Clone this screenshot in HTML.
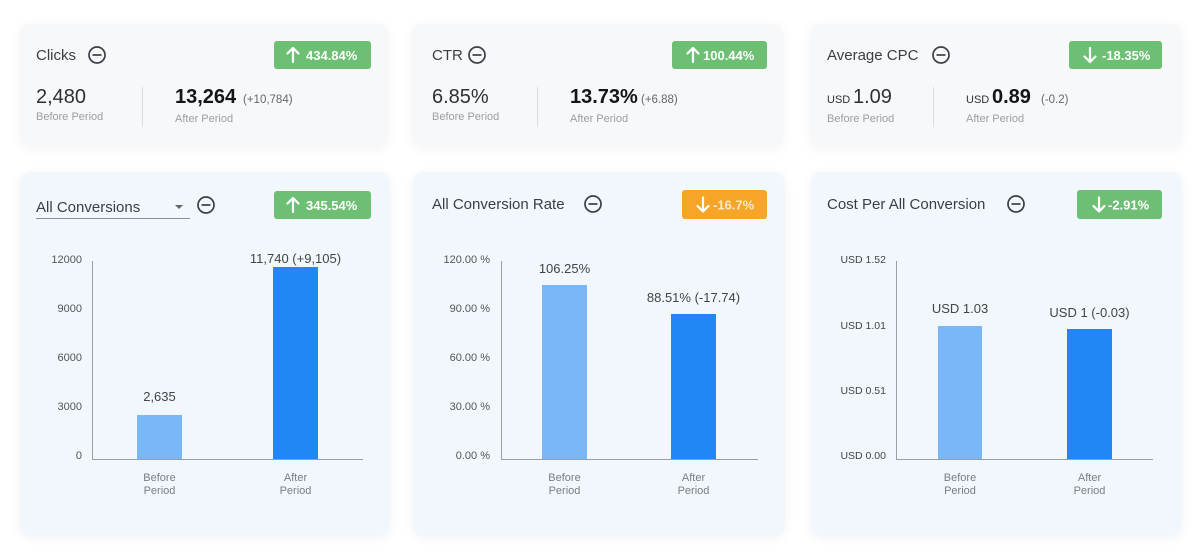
<!DOCTYPE html>
<html><head><meta charset="utf-8">
<style>
html,body{margin:0;padding:0;background:#fff;}
#wrap{position:relative;width:1200px;height:552px;overflow:hidden;background:#fff;font-family:"Liberation Sans",sans-serif;}
.card{position:absolute;border-radius:10px;box-shadow:0 2px 12px rgba(0,0,0,0.05);}
.top{background:#f7f8fa;top:24px;height:123px;}
.bot{background:#f1f7fc;top:172px;height:364px;}
svg{position:absolute;left:0;top:0;}
</style></head><body>
<div id="wrap">
<div class="card top" style="left:20px;width:368px"></div>
<div class="card top" style="left:412px;width:371px"></div>
<div class="card top" style="left:810px;width:372px"></div>
<div class="card bot" style="left:20px;width:370px"></div>
<div class="card bot" style="left:413px;width:372px"></div>
<div class="card bot" style="left:811px;width:371px"></div>
<svg width="1200" height="552" viewBox="0 0 1200 552" font-family="Liberation Sans, sans-serif">
<defs>
<g id="minus"><circle cx="0" cy="0" r="8" fill="none" stroke="#3a3f47" stroke-width="1.7"/><line x1="-4.5" y1="0" x2="4.5" y2="0" stroke="#3a3f47" stroke-width="1.7"/></g>
<g id="up"><path d="M0 -7 L0 7 M-5.5 -1.5 L0 -7 L5.5 -1.5" fill="none" stroke="#fff" stroke-width="2.2" stroke-linecap="round" stroke-linejoin="round"/></g>
<g id="down"><path d="M0 -7 L0 7 M-5.5 1.5 L0 7 L5.5 1.5" fill="none" stroke="#fff" stroke-width="2.2" stroke-linecap="round" stroke-linejoin="round"/></g>
</defs>

<!-- TOP CARD 1 -->
<text x="36" y="60" font-size="15" fill="#3b3e44">Clicks</text>
<use href="#minus" x="97" y="55"/>
<rect x="274" y="41" width="97" height="28" rx="3" fill="#6dbf74"/>
<use href="#up" x="293" y="55"/>
<text x="306" y="60" font-size="13" font-weight="bold" fill="#fff">434.84%</text>
<text x="36" y="103" font-size="20" fill="#2e3035">2,480</text>
<text x="36" y="120" font-size="11" fill="#9c9ea3">Before Period</text>
<line x1="142.5" y1="87" x2="142.5" y2="127" stroke="#dcdde0" stroke-width="1"/>
<text x="175" y="103" font-size="20" font-weight="bold" fill="#141517">13,264</text>
<text x="243" y="103" font-size="11.5" fill="#666">(+10,784)</text>
<text x="175" y="122" font-size="11" fill="#9c9ea3">After Period</text>

<!-- TOP CARD 2 -->
<text x="432" y="60" font-size="15" fill="#3b3e44">CTR</text>
<use href="#minus" x="477" y="55"/>
<rect x="672" y="41" width="95" height="28" rx="3" fill="#6dbf74"/>
<use href="#up" x="693" y="55"/>
<text x="703" y="60" font-size="13" font-weight="bold" fill="#fff">100.44%</text>
<text x="432" y="103" font-size="20" fill="#2e3035">6.85%</text>
<text x="432" y="120" font-size="11" fill="#9c9ea3">Before Period</text>
<line x1="537.5" y1="87" x2="537.5" y2="127" stroke="#dcdde0" stroke-width="1"/>
<text x="570" y="103" font-size="20" font-weight="bold" fill="#141517">13.73%</text>
<text x="641" y="103" font-size="11.5" fill="#666">(+6.88)</text>
<text x="570" y="122" font-size="11" fill="#9c9ea3">After Period</text>

<!-- TOP CARD 3 -->
<text x="827" y="60" font-size="15" fill="#3b3e44">Average CPC</text>
<use href="#minus" x="941" y="55"/>
<rect x="1069" y="41" width="93" height="28" rx="3" fill="#6dbf74"/>
<use href="#down" x="1090" y="55"/>
<text x="1102" y="60" font-size="13" font-weight="bold" fill="#fff">-18.35%</text>
<text x="827" y="103" font-size="11" fill="#2e3035">USD</text>
<text x="853" y="103" font-size="20" fill="#2e3035">1.09</text>
<text x="827" y="122" font-size="11" fill="#9c9ea3">Before Period</text>
<line x1="933.5" y1="87" x2="933.5" y2="127" stroke="#dcdde0" stroke-width="1"/>
<text x="966" y="103" font-size="11" fill="#2e3035">USD</text>
<text x="992" y="103" font-size="20" font-weight="bold" fill="#141517">0.89</text>
<text x="1041" y="103" font-size="11.5" fill="#666">(-0.2)</text>
<text x="966" y="122" font-size="11" fill="#9c9ea3">After Period</text>

<!-- BOTTOM CARD 1 -->
<text x="36" y="212" font-size="15" fill="#3b3e44">All Conversions</text>
<path d="M175 205 L183 205 L179 209 Z" fill="#666"/>
<line x1="36" y1="218.5" x2="190" y2="218.5" stroke="#8a8d92" stroke-width="1"/>
<use href="#minus" x="206" y="205"/>
<rect x="274" y="191" width="97" height="28" rx="3" fill="#6dbf74"/>
<use href="#up" x="293" y="205"/>
<text x="306" y="210" font-size="13" font-weight="bold" fill="#fff">345.54%</text>
<g font-size="11" fill="#555" text-anchor="end">
<text x="82" y="263">12000</text>
<text x="82" y="312">9000</text>
<text x="82" y="361">6000</text>
<text x="82" y="410">3000</text>
<text x="82" y="459">0</text>
</g>
<rect x="137" y="415" width="45" height="44" fill="#7ab7f8"/>
<rect x="273" y="267" width="45" height="192" fill="#2087f5"/>
<line x1="92.5" y1="261" x2="92.5" y2="459" stroke="#9a9ea5" stroke-width="1"/>
<line x1="92" y1="459.5" x2="363" y2="459.5" stroke="#9a9ea5" stroke-width="1"/>
<g font-size="13" fill="#444" text-anchor="middle">
<text x="159.5" y="401">2,635</text>
<text x="295.5" y="263">11,740 (+9,105)</text>
</g>
<g font-size="11" fill="#7a7d82" text-anchor="middle">
<text x="159.5" y="481">Before</text><text x="159.5" y="494">Period</text>
<text x="295.5" y="481">After</text><text x="295.5" y="494">Period</text>
</g>

<!-- BOTTOM CARD 2 -->
<text x="432" y="209" font-size="15" fill="#3b3e44">All Conversion Rate</text>
<use href="#minus" x="593" y="204"/>
<rect x="682" y="190" width="85" height="29" rx="3" fill="#f6a529"/>
<use href="#down" x="703" y="204.5"/>
<text x="713" y="209.5" font-size="13" font-weight="bold" fill="#fde9c8">-16.7%</text>
<g font-size="11" fill="#555" text-anchor="end">
<text x="490" y="263">120.00 %</text>
<text x="490" y="312">90.00 %</text>
<text x="490" y="361">60.00 %</text>
<text x="490" y="410">30.00 %</text>
<text x="490" y="459">0.00 %</text>
</g>
<rect x="542" y="285" width="45" height="174" fill="#7ab7f8"/>
<rect x="671" y="314" width="45" height="145" fill="#2087f5"/>
<line x1="501.5" y1="261" x2="501.5" y2="459" stroke="#9a9ea5" stroke-width="1"/>
<line x1="501" y1="459.5" x2="758" y2="459.5" stroke="#9a9ea5" stroke-width="1"/>
<g font-size="13" fill="#444" text-anchor="middle">
<text x="564.5" y="273">106.25%</text>
<text x="693.5" y="302">88.51% (-17.74)</text>
</g>
<g font-size="11" fill="#7a7d82" text-anchor="middle">
<text x="564.5" y="481">Before</text><text x="564.5" y="494">Period</text>
<text x="693.5" y="481">After</text><text x="693.5" y="494">Period</text>
</g>

<!-- BOTTOM CARD 3 -->
<text x="827" y="209" font-size="15" fill="#3b3e44">Cost Per All Conversion</text>
<use href="#minus" x="1016" y="204"/>
<rect x="1077" y="190" width="85" height="29" rx="3" fill="#6dbf74"/>
<use href="#down" x="1099" y="204.5"/>
<text x="1108" y="209.5" font-size="13" font-weight="bold" fill="#fff">-2.91%</text>
<g font-size="10.5" fill="#444" text-anchor="end">
<text x="886" y="263">USD 1.52</text>
<text x="886" y="329">USD 1.01</text>
<text x="886" y="394">USD 0.51</text>
<text x="886" y="459">USD 0.00</text>
</g>
<rect x="938" y="326" width="44" height="133" fill="#7ab7f8"/>
<rect x="1067" y="329" width="45" height="130" fill="#2087f5"/>
<line x1="896.5" y1="261" x2="896.5" y2="459" stroke="#9a9ea5" stroke-width="1"/>
<line x1="896" y1="459.5" x2="1153" y2="459.5" stroke="#9a9ea5" stroke-width="1"/>
<g font-size="13" fill="#444" text-anchor="middle">
<text x="960" y="313">USD 1.03</text>
<text x="1089.5" y="317">USD 1 (-0.03)</text>
</g>
<g font-size="11" fill="#7a7d82" text-anchor="middle">
<text x="960" y="481">Before</text><text x="960" y="494">Period</text>
<text x="1089.5" y="481">After</text><text x="1089.5" y="494">Period</text>
</g>
</svg>
</div>
</body></html>
